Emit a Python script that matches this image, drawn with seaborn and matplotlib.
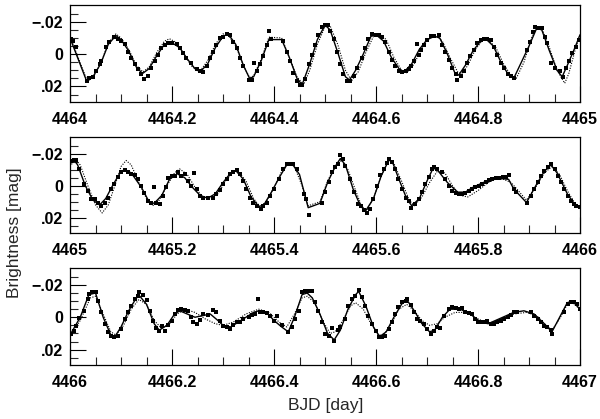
import numpy as np
import pandas as pd
import matplotlib
matplotlib.use("Agg")
import matplotlib.pyplot as plt
import seaborn as sns
from matplotlib.ticker import MultipleLocator, FixedLocator, FixedFormatter

# start day of each panel, times below are offsets [day] within it
days = [4464, 4465, 4466]

# observed points (offset, mag)
p1_obs = [
    (0.002, -0.0096), (0.0066, -0.008), (0.012, -0.0046), (0.033, 0.0168), (0.038, 0.0148),
    (0.045, 0.0144), (0.051, 0.0104), (0.058, 0.0064), (0.061, 0.004), (0.071, -0.0046),
    (0.077, -0.0076), (0.087, -0.0106), (0.094, -0.0096), (0.100, -0.008), (0.107, -0.006),
    (0.113, -0.0016), (0.120, 0.0024), (0.127, 0.0064), (0.133, 0.0094), (0.140, 0.012),
    (0.145, 0.0154), (0.153, 0.0134), (0.159, 0.0084), (0.166, 0.0044), (0.172, 0.0004),
    (0.179, -0.0036), (0.186, -0.0056), (0.192, -0.0066), (0.199, -0.0066), (0.209, -0.006),
    (0.215, -0.0036), (0.222, -0.0006), (0.228, 0.0024), (0.238, 0.0054), (0.248, 0.009),
    (0.254, 0.0104), (0.261, 0.011), (0.268, 0.0074), (0.274, 0.0024), (0.281, -0.0016),
    (0.287, -0.0056), (0.294, -0.010), (0.300, -0.0106), (0.307, -0.0122), (0.313, -0.0116),
    (0.320, -0.0076), (0.327, -0.0036), (0.333, 0.0024), (0.340, 0.0074), (0.350, 0.016),
    (0.356, 0.016), (0.361, 0.0054), (0.366, 0.0104), (0.372, 0.006), (0.379, 0.0014),
    (0.386, -0.0056), (0.391, -0.014), (0.394, -0.0092), (0.418, -0.008), (0.425, -0.0016),
    (0.431, 0.0044), (0.438, 0.0114), (0.445, 0.0164), (0.451, 0.0194), (0.454, 0.019),
    (0.461, 0.0154), (0.468, 0.0064), (0.474, 0.0004), (0.481, -0.0056), (0.487, -0.0116),
    (0.494, -0.0166), (0.500, -0.018), (0.505, -0.018), (0.510, -0.0146), (0.517, -0.0096),
    (0.523, -0.0016), (0.530, 0.0064), (0.535, 0.0124), (0.543, 0.0164), (0.548, 0.0164),
    (0.556, 0.0134), (0.562, 0.0084), (0.572, 0.0024), (0.579, -0.0036), (0.585, -0.0096),
    (0.592, -0.0126), (0.599, -0.0116), (0.605, -0.0116), (0.612, -0.0106), (0.618, -0.0076),
    (0.625, -0.0016), (0.632, 0.0034), (0.638, 0.0074), (0.645, 0.0104), (0.651, 0.011),
    (0.658, 0.0104), (0.664, 0.0094), (0.669, 0.0074), (0.675, 0.004), (0.681, -0.006),
    (0.684, 0.0004), (0.688, -0.0026), (0.694, -0.0056), (0.700, -0.0086), (0.707, -0.011),
    (0.713, -0.011), (0.723, -0.0116), (0.730, -0.0056), (0.736, -0.0016), (0.743, 0.0034),
    (0.749, 0.0084), (0.756, 0.012), (0.759, 0.016), (0.766, 0.0134), (0.772, 0.0104),
    (0.779, 0.0054), (0.785, 0.0014), (0.792, -0.0026), (0.798, -0.0066), (0.805, -0.0086),
    (0.812, -0.0092), (0.818, -0.0096), (0.825, -0.0086), (0.831, -0.0046), (0.838, 0.0004),
    (0.845, 0.0054), (0.851, 0.0084), (0.858, 0.0124), (0.864, 0.0134), (0.871, 0.0148),
    (0.897, -0.0026), (0.902, -0.0076), (0.907, -0.0136), (0.912, -0.0166), (0.918, -0.016),
    (0.925, -0.016), (0.931, -0.0106), (0.936, -0.0066), (0.943, 0.0054), (0.950, 0.0084),
    (0.960, 0.0104), (0.967, 0.0144), (0.972, 0.0084), (0.979, 0.004), (0.985, -0.0006),
    (0.992, -0.0046), (0.998, -0.0086),
]
p2_obs = [
    (0.002, -0.0152), (0.007, -0.0158), (0.012, -0.0158), (0.017, -0.0105), (0.028, -0.001),
    (0.035, 0.0032), (0.041, 0.008), (0.048, 0.008), (0.054, 0.0105), (0.061, 0.0126),
    (0.068, 0.0105), (0.074, 0.0074), (0.081, 0.0021), (0.087, -0.001), (0.094, -0.0053),
    (0.100, -0.0088), (0.107, -0.0099), (0.113, -0.0084), (0.120, -0.0074), (0.127, -0.0067),
    (0.133, -0.0042), (0.140, 0.0), (0.146, 0.0046), (0.153, 0.0095), (0.159, 0.0105),
    (0.165, 0.001), (0.169, 0.0105), (0.176, 0.0116), (0.182, 0.0063), (0.189, 0.001),
    (0.192, -0.0046), (0.199, -0.0059), (0.205, -0.0063), (0.212, -0.0084), (0.218, -0.0063),
    (0.225, -0.0074), (0.231, -0.0032), (0.238, 0.0), (0.243, -0.0078), (0.248, 0.0021),
    (0.254, 0.0063), (0.261, 0.0074), (0.271, 0.0074), (0.281, 0.0074), (0.287, 0.0053),
    (0.294, 0.0027), (0.300, -0.001), (0.307, -0.0042), (0.313, -0.0074), (0.320, -0.0084),
    (0.327, -0.0101), (0.333, -0.0074), (0.340, -0.0032), (0.346, 0.0021), (0.353, 0.0074),
    (0.359, 0.0105), (0.366, 0.0126), (0.374, 0.0147), (0.379, 0.0126), (0.386, 0.0105),
    (0.392, 0.0063), (0.399, 0.0021), (0.409, -0.0042), (0.418, -0.0105), (0.425, -0.0137),
    (0.431, -0.0137), (0.438, -0.0133), (0.445, -0.0105), (0.458, 0.0053), (0.463, 0.0084),
    (0.469, 0.0185), (0.494, 0.0105), (0.500, 0.0042), (0.507, -0.0021), (0.514, -0.0084),
    (0.520, -0.0116), (0.525, -0.0137), (0.530, -0.019), (0.535, -0.0164), (0.540, -0.0126),
    (0.548, -0.0042), (0.556, 0.0042), (0.564, 0.0116), (0.571, 0.0126), (0.577, 0.0152),
    (0.582, 0.0168), (0.589, 0.0143), (0.595, 0.0084), (0.602, 0.0), (0.608, -0.0067),
    (0.615, -0.0105), (0.621, -0.0143), (0.626, -0.0168), (0.631, -0.0147), (0.638, -0.0105),
    (0.644, -0.0042), (0.651, 0.0021), (0.658, 0.0074), (0.664, 0.0095), (0.668, 0.0137),
    (0.677, 0.0116), (0.684, 0.0084), (0.690, 0.0042), (0.697, -0.001), (0.703, -0.0053),
    (0.710, -0.0105), (0.713, -0.012), (0.720, -0.0105), (0.730, -0.0084), (0.736, -0.0042),
    (0.743, 0.0), (0.749, 0.0032), (0.756, 0.0046), (0.762, 0.0053), (0.769, 0.0053),
    (0.775, 0.0046), (0.782, 0.0032), (0.789, 0.0021), (0.795, 0.001), (0.802, 0.0),
    (0.808, -0.001), (0.815, -0.0021), (0.821, -0.0036), (0.828, -0.0042), (0.835, -0.0046),
    (0.841, -0.0046), (0.848, -0.0053), (0.854, -0.0057), (0.861, -0.0067), (0.871, 0.0021),
    (0.874, 0.0042), (0.897, 0.0105), (0.904, 0.0063), (0.910, 0.0021), (0.917, -0.0021),
    (0.923, -0.0063), (0.930, -0.0095), (0.937, -0.0116), (0.943, -0.0137), (0.950, -0.0105),
    (0.956, -0.0063), (0.963, -0.0021), (0.969, 0.0021), (0.976, 0.0063), (0.982, 0.0095),
    (0.988, 0.0116), (0.992, 0.0126), (0.999, 0.013),
]
p3_obs = [
    (0.002, 0.0103), (0.007, 0.0082), (0.012, 0.0052), (0.018, 0.0006), (0.028, -0.0041),
    (0.035, -0.0113), (0.038, -0.0144), (0.043, -0.0155), (0.048, -0.0155), (0.051, -0.0155),
    (0.054, -0.0103), (0.061, -0.0031), (0.068, 0.0041), (0.074, 0.0093), (0.081, 0.0113),
    (0.087, 0.0124), (0.094, 0.0113), (0.100, 0.0072), (0.107, 0.001), (0.113, -0.0031),
    (0.120, -0.0072), (0.127, -0.0113), (0.133, -0.0134), (0.136, -0.0159), (0.143, -0.0138),
    (0.150, -0.0109), (0.156, -0.0041), (0.163, 0.0021), (0.169, 0.0068), (0.174, 0.0082),
    (0.180, 0.0052), (0.186, 0.0082), (0.192, 0.0047), (0.199, 0.0021), (0.205, -0.0021),
    (0.212, -0.0045), (0.218, -0.0052), (0.225, -0.0045), (0.231, -0.0041), (0.238, 0.0),
    (0.241, 0.0027), (0.248, 0.0041), (0.254, 0.0014), (0.261, -0.0021), (0.271, -0.0014),
    (0.281, -0.0045), (0.287, -0.0035), (0.294, 0.0021), (0.300, 0.0056), (0.307, 0.0062),
    (0.313, 0.0072), (0.320, 0.0047), (0.327, 0.0031), (0.333, 0.0027), (0.340, 0.001),
    (0.350, 0.0), (0.356, -0.0014), (0.363, -0.0021), (0.369, -0.0113), (0.372, -0.0031),
    (0.379, -0.0031), (0.386, -0.0025), (0.392, -0.001), (0.399, 0.0021), (0.405, -0.001),
    (0.415, 0.0047), (0.428, 0.0093), (0.435, 0.0062), (0.441, 0.001), (0.448, -0.0041),
    (0.455, -0.0155), (0.461, -0.0161), (0.468, -0.0165), (0.474, -0.0165), (0.481, -0.0093),
    (0.487, -0.0041), (0.494, 0.0031), (0.500, 0.0103), (0.507, 0.0113), (0.514, 0.0068),
    (0.518, 0.0144), (0.525, 0.0076), (0.530, 0.0062), (0.540, 0.001), (0.546, -0.0072),
    (0.553, -0.0113), (0.559, -0.0134), (0.566, -0.0171), (0.572, -0.0124), (0.579, -0.0072),
    (0.585, -0.001), (0.592, 0.0041), (0.599, 0.0082), (0.605, 0.0124), (0.612, 0.0124),
    (0.618, 0.0113), (0.625, 0.0072), (0.631, 0.0031), (0.638, -0.0021), (0.644, -0.0062),
    (0.651, -0.0093), (0.658, -0.0103), (0.661, -0.0113), (0.668, -0.0076), (0.674, -0.0031),
    (0.681, 0.001), (0.687, 0.0021), (0.694, 0.0041), (0.700, 0.0072), (0.707, 0.0103),
    (0.713, 0.0082), (0.720, 0.0062), (0.725, 0.0068), (0.733, -0.001), (0.743, -0.0052),
    (0.749, -0.0062), (0.756, -0.0056), (0.762, -0.0052), (0.769, -0.0056), (0.775, -0.0031),
    (0.782, -0.0025), (0.789, -0.0021), (0.795, 0.001), (0.799, 0.0027), (0.805, 0.0031),
    (0.812, 0.0027), (0.818, 0.0021), (0.825, 0.0041), (0.831, 0.0041), (0.838, 0.0031),
    (0.845, 0.0021), (0.851, 0.001), (0.858, 0.0), (0.864, -0.0014), (0.871, -0.0031),
    (0.877, -0.0031), (0.903, -0.0031), (0.910, -0.001), (0.917, 0.001), (0.923, 0.0027),
    (0.930, 0.0052), (0.936, 0.0062), (0.943, 0.0076), (0.946, 0.0103), (0.969, -0.0031),
    (0.976, -0.0082), (0.982, -0.0097), (0.989, -0.0093), (0.995, -0.0082), (1.000, -0.0052),
]

# solid model curve (offset, mag)
p1_solid = [
    (0.0, -0.010), (0.033, 0.017), (0.045, 0.014), (0.06, 0.006), (0.075, -0.006), (0.09, -0.0115),
    (0.10, -0.009), (0.115, -0.002), (0.13, 0.008), (0.142, 0.012), (0.155, 0.009), (0.17, 0.001),
    (0.185, -0.006), (0.20, -0.007), (0.215, -0.004), (0.23, 0.003), (0.245, 0.009), (0.255, 0.011),
    (0.27, 0.006), (0.285, -0.004), (0.30, -0.011), (0.31, -0.0125), (0.325, -0.006), (0.34, 0.007),
    (0.352, 0.015), (0.36, 0.014), (0.375, 0.004), (0.39, -0.009), (0.415, -0.009), (0.43, 0.002),
    (0.445, 0.015), (0.455, 0.019), (0.47, 0.006), (0.485, -0.009), (0.50, -0.018), (0.51, -0.015),
    (0.525, -0.001), (0.54, 0.014), (0.548, 0.016), (0.56, 0.010), (0.575, 0.0), (0.59, -0.011),
    (0.60, -0.012), (0.615, -0.008), (0.63, 0.002), (0.645, 0.009), (0.655, 0.011), (0.67, 0.006),
    (0.685, -0.003), (0.70, -0.009), (0.715, -0.011), (0.725, -0.010), (0.74, 0.0), (0.755, 0.012),
    (0.762, 0.013), (0.775, 0.007), (0.79, -0.002), (0.805, -0.008), (0.815, -0.0095), (0.83, -0.005),
    (0.845, 0.005), (0.86, 0.013), (0.87, 0.015), (0.90, -0.005), (0.915, -0.016), (0.925, -0.015),
    (0.94, -0.002), (0.955, 0.010), (0.965, 0.014), (0.975, 0.007), (0.99, -0.004), (1.0, -0.012),
]
p2_solid = [
    (0.0, -0.014), (0.008, -0.016), (0.015, -0.013), (0.03, 0.0), (0.045, 0.009), (0.058, 0.012),
    (0.07, 0.008), (0.085, -0.001), (0.10, -0.009), (0.108, -0.010), (0.12, -0.008), (0.14, 0.001),
    (0.155, 0.010), (0.165, 0.011), (0.18, 0.006), (0.195, -0.004), (0.21, -0.0075), (0.225, -0.005),
    (0.24, 0.001), (0.255, 0.006), (0.27, 0.0078), (0.285, 0.005), (0.30, -0.002), (0.315, -0.008),
    (0.325, -0.0095), (0.34, -0.004), (0.355, 0.007), (0.37, 0.013), (0.38, 0.012), (0.395, 0.004),
    (0.41, -0.005), (0.425, -0.013), (0.435, -0.014), (0.45, -0.007), (0.467, 0.0137), (0.49, 0.011),
    (0.505, -0.002), (0.52, -0.012), (0.53, -0.017), (0.54, -0.013), (0.555, 0.002), (0.57, 0.013),
    (0.58, 0.0155), (0.595, 0.008), (0.61, -0.006), (0.625, -0.016), (0.632, -0.015), (0.645, -0.004),
    (0.66, 0.008), (0.67, 0.0125), (0.685, 0.008), (0.70, -0.003), (0.712, -0.011), (0.72, -0.010),
    (0.74, -0.002), (0.76, 0.004), (0.775, 0.004), (0.79, 0.001), (0.81, -0.002), (0.83, -0.004),
    (0.845, -0.0045), (0.86, -0.004), (0.87, 0.002), (0.895, 0.0105), (0.915, -0.001), (0.93, -0.009),
    (0.943, -0.013), (0.955, -0.008), (0.975, 0.005), (0.99, 0.012), (1.0, 0.013),
]
p3_solid = [
    (0.0, 0.011), (0.02, 0.0), (0.037, -0.014), (0.05, -0.015), (0.065, 0.0), (0.08, 0.011),
    (0.088, 0.012), (0.10, 0.006), (0.115, -0.004), (0.13, -0.012), (0.137, -0.013), (0.15, -0.008),
    (0.165, 0.004), (0.175, 0.008), (0.19, 0.005), (0.205, -0.002), (0.215, -0.004), (0.23, -0.002),
    (0.245, 0.0), (0.26, -0.001), (0.275, -0.002), (0.29, 0.002), (0.30, 0.005), (0.315, 0.006),
    (0.33, 0.003), (0.345, 0.0), (0.36, -0.003), (0.37, -0.004), (0.385, -0.003), (0.40, 0.002),
    (0.415, 0.006), (0.428, 0.009), (0.44, 0.0), (0.455, -0.014), (0.465, -0.015), (0.475, -0.012),
    (0.49, -0.002), (0.505, 0.010), (0.518, 0.014), (0.53, 0.008), (0.545, -0.005), (0.56, -0.014),
    (0.566, -0.016), (0.58, -0.007), (0.595, 0.006), (0.607, 0.012), (0.62, 0.009), (0.635, 0.0),
    (0.65, -0.008), (0.66, -0.011), (0.675, -0.004), (0.69, 0.004), (0.705, 0.009), (0.715, 0.008),
    (0.73, 0.0), (0.745, -0.005), (0.765, -0.005), (0.785, -0.002), (0.805, 0.003), (0.82, 0.004),
    (0.87, -0.003), (0.89, -0.004), (0.91, -0.002), (0.93, 0.004), (0.945, 0.009), (0.975, -0.009),
    (0.985, -0.010), (1.0, -0.005),
]

# dotted model curve (offset, mag)
p1_dot = [
    (0.0, -0.011), (0.033, 0.016), (0.045, 0.0145), (0.06, 0.006), (0.075, -0.007), (0.09, -0.0125),
    (0.10, -0.010), (0.115, -0.003), (0.13, 0.007), (0.143, 0.011), (0.155, 0.008), (0.17, -0.001),
    (0.185, -0.008), (0.195, -0.0095), (0.21, -0.007), (0.225, 0.001), (0.24, 0.008), (0.255, 0.0105),
    (0.27, 0.004), (0.285, -0.006), (0.30, -0.0125), (0.31, -0.012), (0.325, -0.005), (0.34, 0.007),
    (0.352, 0.0145), (0.36, 0.0135), (0.375, 0.003), (0.39, -0.0105), (0.415, -0.010), (0.43, 0.002),
    (0.445, 0.014), (0.458, 0.019), (0.47, 0.010), (0.485, -0.006), (0.50, -0.017), (0.51, -0.0175),
    (0.525, -0.006), (0.54, 0.010), (0.552, 0.0165), (0.565, 0.011), (0.58, -0.001), (0.595, -0.011),
    (0.605, -0.013), (0.62, -0.009), (0.635, 0.002), (0.65, 0.010), (0.66, 0.0115), (0.675, 0.006),
    (0.69, -0.004), (0.705, -0.010), (0.718, -0.0115), (0.73, -0.008), (0.745, 0.002), (0.76, 0.011),
    (0.768, 0.012), (0.78, 0.007), (0.795, -0.003), (0.81, -0.009), (0.818, -0.0095), (0.835, -0.004),
    (0.85, 0.006), (0.865, 0.0135), (0.875, 0.015), (0.89, 0.005), (0.905, -0.010), (0.915, -0.0165),
    (0.925, -0.016), (0.94, -0.004), (0.955, 0.010), (0.97, 0.018), (0.978, 0.012), (0.99, -0.002),
    (1.0, -0.012),
]
p2_dot = [
    (0.0, -0.012), (0.01, -0.0165), (0.02, -0.013), (0.035, 0.0), (0.05, 0.012), (0.063, 0.017),
    (0.075, 0.012), (0.09, -0.002), (0.10, -0.012), (0.11, -0.0158), (0.12, -0.013), (0.135, -0.002),
    (0.15, 0.008), (0.162, 0.0125), (0.175, 0.009), (0.19, 0.0), (0.205, -0.008), (0.215, -0.0105),
    (0.23, -0.007), (0.245, 0.001), (0.26, 0.007), (0.275, 0.0085), (0.29, 0.005), (0.305, -0.003),
    (0.32, -0.009), (0.328, -0.0095), (0.345, -0.003), (0.36, 0.008), (0.372, 0.013), (0.385, 0.010),
    (0.40, 0.001), (0.415, -0.009), (0.428, -0.0145), (0.44, -0.012), (0.455, 0.0), (0.467, 0.0125),
    (0.49, 0.010), (0.505, -0.003), (0.52, -0.012), (0.532, -0.016), (0.545, -0.010), (0.56, 0.003),
    (0.572, 0.013), (0.582, 0.015), (0.595, 0.008), (0.61, -0.006), (0.625, -0.016), (0.635, -0.014),
    (0.65, -0.003), (0.665, 0.009), (0.675, 0.0125), (0.69, 0.007), (0.705, -0.002), (0.72, -0.009),
    (0.735, -0.008), (0.75, 0.0), (0.765, 0.006), (0.78, 0.007), (0.80, 0.003), (0.82, -0.002),
    (0.835, -0.004), (0.85, -0.004), (0.865, -0.002), (0.895, 0.009), (0.915, 0.0), (0.93, -0.008),
    (0.945, -0.012), (0.96, -0.007), (0.975, 0.003), (0.99, 0.011), (1.0, 0.013),
]
p3_dot = [
    (0.0, 0.012), (0.02, 0.002), (0.04, -0.012), (0.05, -0.013), (0.065, -0.002), (0.08, 0.009),
    (0.09, 0.011), (0.105, 0.005), (0.12, -0.005), (0.135, -0.011), (0.15, -0.008), (0.165, 0.002),
    (0.18, 0.007), (0.195, 0.004), (0.21, -0.002), (0.225, -0.005), (0.245, -0.003), (0.265, 0.001),
    (0.285, 0.004), (0.30, 0.005), (0.32, 0.003), (0.345, -0.002), (0.37, -0.005), (0.39, -0.003),
    (0.41, 0.003), (0.425, 0.006), (0.44, -0.002), (0.455, -0.012), (0.465, -0.013), (0.48, -0.009),
    (0.495, 0.002), (0.51, 0.010), (0.52, 0.009), (0.535, 0.002), (0.55, -0.007), (0.56, -0.009),
    (0.575, -0.005), (0.59, 0.004), (0.605, 0.011), (0.615, 0.011), (0.63, 0.004), (0.645, -0.005),
    (0.66, -0.008), (0.675, -0.004), (0.69, 0.002), (0.705, 0.005), (0.72, 0.004), (0.735, 0.0),
    (0.755, -0.003), (0.775, -0.003), (0.80, 0.001), (0.82, 0.004), (0.845, 0.001), (0.87, -0.002),
    (0.895, -0.003), (0.915, -0.001), (0.93, 0.004), (0.945, 0.008), (0.96, 0.001), (0.975, -0.008),
    (0.985, -0.009), (1.0, -0.005),
]

obs_sets = [p1_obs, p2_obs, p3_obs]
solid_sets = [p1_solid, p2_solid, p3_solid]
dot_sets = [p1_dot, p2_dot, p3_dot]

sns.set_style("ticks")
plt.rcParams["font.family"] = ["Liberation Sans", "DejaVu Sans"]
plt.rcParams["axes.linewidth"] = 0.9

fig = plt.figure(figsize=(6.0, 4.19), dpi=100)
panel_rects = [
    [0.1167, 0.757, 0.85, 0.2315],
    [0.1167, 0.444, 0.85, 0.2292],
    [0.1167, 0.129, 0.85, 0.2315],
]

for day, obs, sol, dot, rect in zip(days, obs_sets, solid_sets, dot_sets, panel_rects):
    ax = fig.add_axes(rect)
    df_obs = pd.DataFrame(obs, columns=["t", "mag"])
    df_obs["t"] += day
    df_sol = pd.DataFrame(sol, columns=["t", "mag"])
    df_sol["t"] += day
    df_dot = pd.DataFrame(dot, columns=["t", "mag"])
    df_dot["t"] += day

    sns.lineplot(data=df_dot, x="t", y="mag", ax=ax, color="black", lw=0.8,
                 linestyle=(0, (1, 1.3)), estimator=None, sort=False)
    sns.lineplot(data=df_sol, x="t", y="mag", ax=ax, color="black", lw=1.0,
                 estimator=None, sort=False)
    sns.scatterplot(data=df_obs, x="t", y="mag", ax=ax, color="black", marker="s",
                    s=9, linewidth=0, zorder=3)

    ax.set_xlim(day, day + 1)
    ax.set_ylim(0.0295, -0.0305)
    ax.xaxis.set_major_locator(MultipleLocator(0.2))
    ax.xaxis.set_minor_locator(MultipleLocator(0.05))
    ax.xaxis.set_major_formatter(plt.FuncFormatter(lambda v, p: f"{v:g}"))
    ax.yaxis.set_major_locator(FixedLocator([-0.02, 0.0, 0.02]))
    ax.yaxis.set_major_formatter(FixedFormatter(["\u2212.02", "0", ".02"]))
    ax.yaxis.set_minor_locator(FixedLocator([-0.025, -0.015, -0.01, -0.005, 0.005, 0.01, 0.015, 0.025]))
    ax.tick_params(axis="both", which="major", direction="in", length=11.5, width=0.8,
                   labelsize=11.5, colors="black")
    ax.tick_params(axis="both", which="minor", direction="in", length=5.8, width=0.8)
    ax.tick_params(axis="x", which="both", top=False, pad=7)
    ax.tick_params(axis="y", which="both", right=False, pad=5)
    for lab in ax.get_xticklabels() + ax.get_yticklabels():
        lab.set_fontweight("bold")
    ax.set_xlabel("")
    ax.set_ylabel("")
    for sp in ax.spines.values():
        sp.set_visible(True)
        sp.set_color("black")

fig.text(0.025, 0.445, "Brightness [mag]", rotation=90, ha="center", va="center", fontsize=12.5)
fig.text(0.542, 0.032, "BJD [day]", ha="center", va="center", fontsize=12.5)

fig.savefig("out.png", dpi=100)
